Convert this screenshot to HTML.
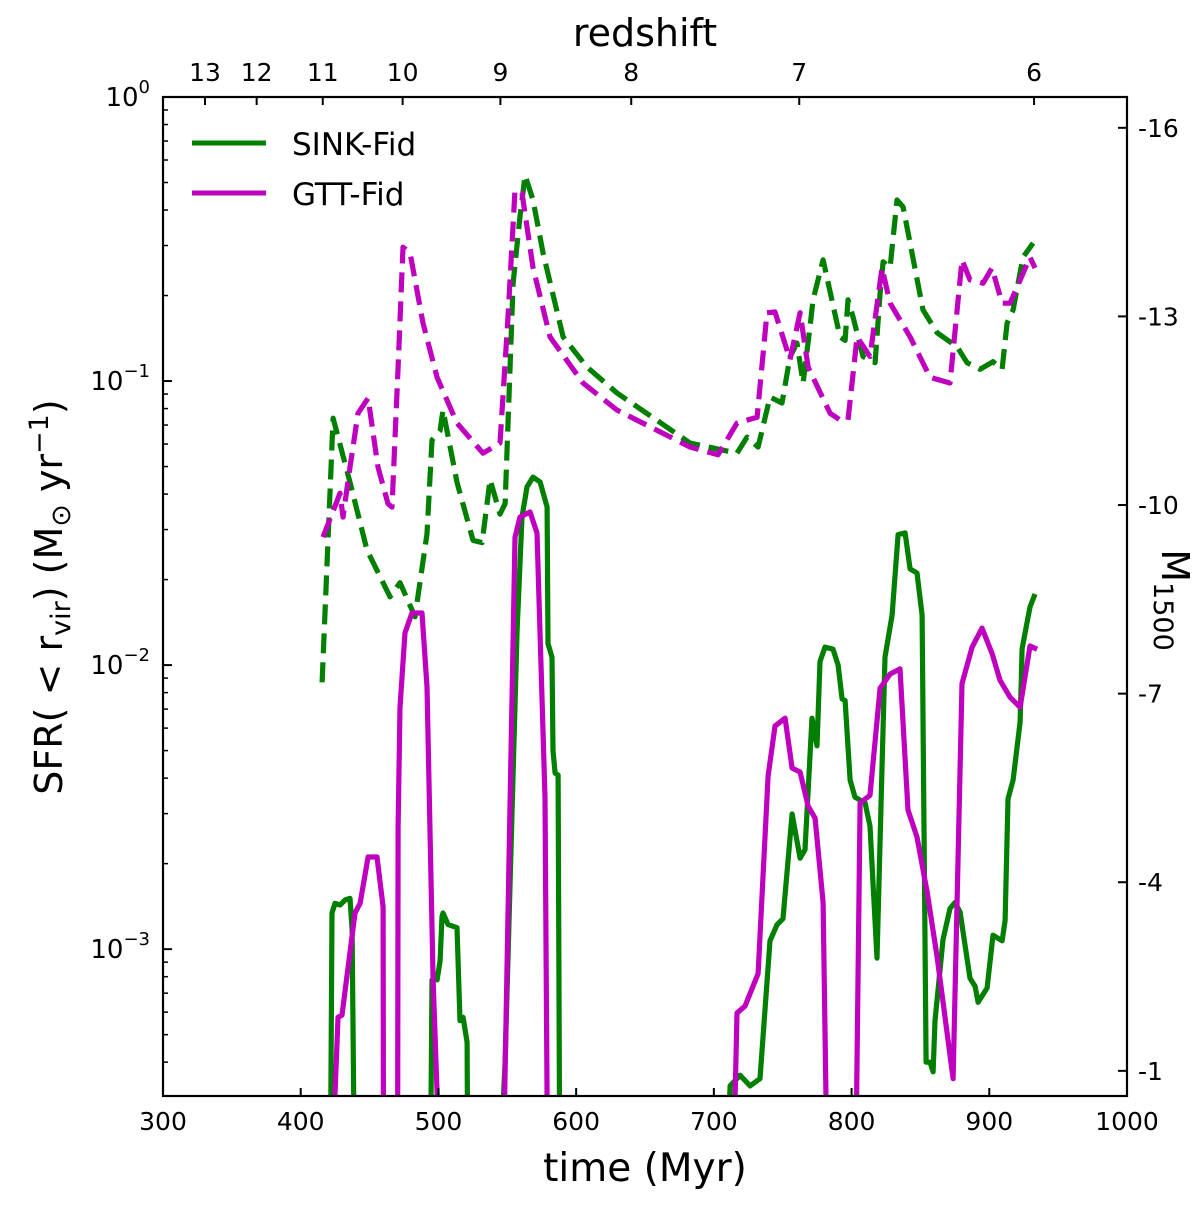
<!DOCTYPE html>
<html><head><meta charset="utf-8"><style>
html,body{margin:0;padding:0;background:#fff;}
svg{display:block;font-family:"DejaVu Sans","Liberation Sans",sans-serif;}
</style></head><body>
<svg id="chart" width="1200" height="1211" viewBox="0 0 1200 1211" xmlns="http://www.w3.org/2000/svg">
<defs><clipPath id="plotclip"><rect x="163" y="97" width="964" height="999"/></clipPath></defs>
<g id="series" clip-path="url(#plotclip)"></g>
<rect x="163" y="97" width="964" height="999" fill="none" stroke="#000" stroke-width="2.2"/>
<g id="axes"></g>
<g>
<line x1="192" y1="143" x2="266" y2="143" stroke="#007f00" stroke-width="5"/>
<text x="292" y="155" font-size="31">SINK-Fid</text>
<line x1="192" y1="193" x2="266" y2="193" stroke="#bf00bf" stroke-width="5"/>
<text x="292" y="205" font-size="31">GTT-Fid</text>
</g>
<text x="645" y="1181" font-size="39" text-anchor="middle">time (Myr)</text>
<text x="645" y="46" font-size="38" text-anchor="middle">redshift</text>
<text transform="translate(62,597) rotate(-90)" font-size="38" text-anchor="middle">SFR( &lt; r<tspan font-size="27" dy="8">vir</tspan><tspan dy="-8">) (M</tspan><tspan font-size="27" dy="8">⊙</tspan><tspan dy="-8"> yr</tspan><tspan font-size="27" dy="-14">−1</tspan><tspan dy="14">)</tspan></text>
<text transform="translate(1162,600) rotate(90)" font-size="38" text-anchor="middle">M<tspan font-size="27" dy="8">1500</tspan></text>
</svg>
<script>
const sinkDashT=[415.5,423.5,435.8,448.1,464.8,472.1,483,491.7,495.3,501.2,503.3,513.5,525.1,531.7,537.5,544.7,548.4,554.2,559.2,562.9,568.7,576,590.5,607.9,629.7,682.7,716.8,724.1,732.1,740.8,749.5,755.3,760.4,764.8,769.8,772,779.3,791.6,795.3,797.4,801.1,808.3,817.1,820.7,822.9,828,833,837.4,851.9,862.1,876.6,883.9,893.3,902.7,909.3,912.9,917.3,924.5,931.8];
const sinkDashV=[0.0087,0.074,0.044,0.0254,0.0174,0.0195,0.0148,0.029,0.062,0.067,0.079,0.044,0.0275,0.027,0.045,0.034,0.037,0.221,0.38,0.53,0.434,0.282,0.143,0.112,0.0908,0.0605,0.0557,0.0635,0.0586,0.0879,0.0837,0.1216,0.136,0.0984,0.155,0.193,0.267,0.143,0.139,0.193,0.168,0.122,0.116,0.204,0.263,0.251,0.434,0.41,0.178,0.148,0.132,0.116,0.11,0.117,0.11,0.16,0.178,0.273,0.306];
const gttDashT=[416.2,428.5,430.7,435.8,441.6,448.9,456.1,463.4,466.3,470.7,474.3,479.4,488.8,499,513.5,532.4,544.7,550.5,555.6,560.7,568.7,581,605,629.7,682.7,703,716.8,731.4,738.6,744.4,755.3,762.6,768.4,784.4,791.6,797.4,804,813.4,822.1,828,842.5,857,871.5,880.2,886,895.5,902,909.3,915.1,929.6,933.2];
const gttDashV=[0.0282,0.0403,0.0332,0.0498,0.077,0.087,0.0498,0.037,0.036,0.112,0.296,0.282,0.16,0.103,0.0711,0.0557,0.0605,0.168,0.471,0.459,0.251,0.143,0.0984,0.079,0.0586,0.055,0.0711,0.0746,0.174,0.175,0.119,0.174,0.112,0.077,0.073,0.073,0.143,0.122,0.25,0.188,0.143,0.103,0.0984,0.267,0.227,0.221,0.25,0.188,0.188,0.273,0.25];
const sinkT=[421.3,422.7,424.9,428.5,432.2,435.8,437.3,439.4,493.9,495.3,499,501.2,502.6,503.3,507,513.5,515.7,517.9,520.8,521.5,542.6,548.4,557.1,560.7,564.3,568.7,573.8,578.9,579.6,582.5,583.2,584.7,586.9,588.3,708,711.8,719,726.3,733.5,740.8,745.9,750.2,756.8,762.6,766.2,771.3,774.9,777.1,780.7,786.5,790.2,793.1,795.3,798.9,802.5,809.8,813.4,818.5,822.1,824.3,829.4,833.8,838.9,842.5,847.5,851.2,854.1,857,859.2,860.6,866.4,871.5,875.1,878.8,886,889.7,891.9,898.4,902.7,909.3,911.5,913.6,917.3,922.4,923.8,927.4,929.6,933.2];
const sinkV=[0.0001,0.00134,0.00145,0.00143,0.00149,0.00151,0.00117,0.0001,0.0001,0.00078,0.00078,0.00091,0.0013,0.00134,0.00122,0.00119,0.00056,0.000575,0.00047,0.0001,0.0001,0.0004,0.0133,0.0332,0.0424,0.0459,0.0441,0.036,0.0119,0.01066,0.005,0.00417,0.0041,0.0001,0.0001,0.00033,0.00036,0.00033,0.00035,0.00107,0.00122,0.00128,0.00299,0.00209,0.00224,0.0065,0.0052,0.0103,0.01156,0.01138,0.01,0.0076,0.0075,0.00394,0.00343,0.00327,0.00271,0.00093,0.00434,0.01067,0.015,0.0288,0.0292,0.0218,0.0211,0.015,0.0004,0.0004,0.00037,0.00056,0.00108,0.00139,0.00146,0.00135,0.00079,0.00074,0.00065,0.00073,0.00112,0.00107,0.00126,0.00338,0.00394,0.0063,0.0114,0.0141,0.016,0.0178];
const gttT=[421,427.1,430,439.4,443.1,448.9,455.4,459.8,460.2,470.3,470.7,472.1,475.7,480.8,488.1,491.7,496.1,502.6,546.2,555.6,559.2,566.5,571.6,577.4,579.6,713.2,716.8,722.6,732.1,739.4,744.4,751.7,756.8,762.6,768.4,773.5,779.3,782.9,802.5,806.2,813.4,820.7,828,835.2,841,847.5,854.8,862.1,873.7,880.2,887.5,894.7,902,907.8,915.1,922.4,929.6,934.7];
const gttV=[0.0001,0.000575,0.000586,0.00134,0.00145,0.00211,0.00211,0.00141,0.0001,0.0001,0.00269,0.0071,0.013,0.01525,0.01525,0.0084,0.00078,0.0001,0.0001,0.0282,0.0332,0.0346,0.0292,0.00343,0.0001,0.0001,0.000596,0.00063,0.00082,0.00407,0.0061,0.0065,0.00434,0.0042,0.00319,0.00289,0.00146,0.0001,0.0001,0.00327,0.00348,0.0083,0.0093,0.0097,0.00309,0.00248,0.0016,0.00094,0.00035,0.0086,0.01156,0.0135,0.011,0.00885,0.0077,0.0071,0.01167,0.01138];
const xTicks=[300,400,500,600,700,800,900,1000];
const yTickExp=[0,-1,-2,-3];
const zTickLabels=["13","12","11","10","9","8","7","6"];
const zTickTimes=[330.5,368,416,474,545,640,762,932.5];
const mTicks=[-16,-13,-10,-7,-4,-1];

const X0=163,X1=1127,Y0=97,Y1=1096;
const xs=t=>X0+(t-300)/700*(X1-X0);
const LTOP=0,LBOT=-3.517;
const ys=v=>Y0+(LTOP-Math.log10(v))/(LTOP-LBOT)*(Y1-Y0);
const MTOP=-16.49,MBOT=-0.60;
const ms=m=>Y0+(m-MTOP)/(MBOT-MTOP)*(Y1-Y0);
const NS="http://www.w3.org/2000/svg";
const series=document.getElementById('series');
const axes=document.getElementById('axes');
function mk(tag,attrs,parent){const e=document.createElementNS(NS,tag);for(const k in attrs)e.setAttribute(k,attrs[k]);parent.appendChild(e);return e;}
function line(T,V,color,dash,name){
  const d=T.map((t,i)=>(i?'L':'M')+xs(t).toFixed(1)+','+ys(V[i]).toFixed(1)).join('');
  const p=mk('path',{d:d,fill:'none',stroke:color,'stroke-width':5.2,'stroke-linejoin':'round'},series);
  if(dash)p.setAttribute('stroke-dasharray','20,9');
  
  
}
line(sinkDashT,sinkDashV,'#007f00',true,'sink-fid-dashed-line');
line(gttDashT,gttDashV,'#bf00bf',true,'gtt-fid-dashed-line');
line(sinkT,sinkV,'#007f00',false,'sink-fid-line');
line(gttT,gttV,'#bf00bf',false,'gtt-fid-line');

xTicks.forEach(t=>{
  const x=xs(t);
  const tk=mk('line',{x1:x,y1:Y1,x2:x,y2:Y1-8,stroke:'#000','stroke-width':2},axes);
  
  
  const lb=mk('text',{x:x,y:Y1+34,'font-size':25,'text-anchor':'middle'},axes);
  lb.textContent=t;
  
  
});
yTickExp.forEach(e=>{
  const y=ys(Math.pow(10,e));
  const tk=mk('line',{x1:X0,y1:y,x2:X0+9,y2:y,stroke:'#000','stroke-width':2},axes);
  
  
  const lb=mk('text',{x:150,y:y+9,'font-size':26,'text-anchor':'end'},axes);
  lb.innerHTML='10<tspan font-size="18" dy="-13">'+(e<0?'−'+(-e):e)+'</tspan>';
  
  
});
for(let e=-4;e<0;e++){for(let k=2;k<10;k++){const v=k*Math.pow(10,e);const y=ys(v);if(y<Y0||y>Y1)continue;
  const tk=mk('line',{x1:X0,y1:y,x2:X0+5,y2:y,stroke:'#000','stroke-width':1.5},axes);
  
  
}}
zTickTimes.forEach((t,i)=>{
  const x=xs(t);
  const tk=mk('line',{x1:x,y1:Y0,x2:x,y2:Y0+8,stroke:'#000','stroke-width':2},axes);
  
  
  const lb=mk('text',{x:x,y:Y0-16,'font-size':25,'text-anchor':'middle'},axes);
  lb.textContent=zTickLabels[i];
  
  
});
mTicks.forEach(m=>{
  const y=ms(m);
  const tk=mk('line',{x1:X1,y1:y,x2:X1-9,y2:y,stroke:'#000','stroke-width':2},axes);
  
  
  const lb=mk('text',{x:X1+11,y:y+9,'font-size':25},axes);
  lb.textContent=String(m);
  
  
});
</script>
</body></html>
